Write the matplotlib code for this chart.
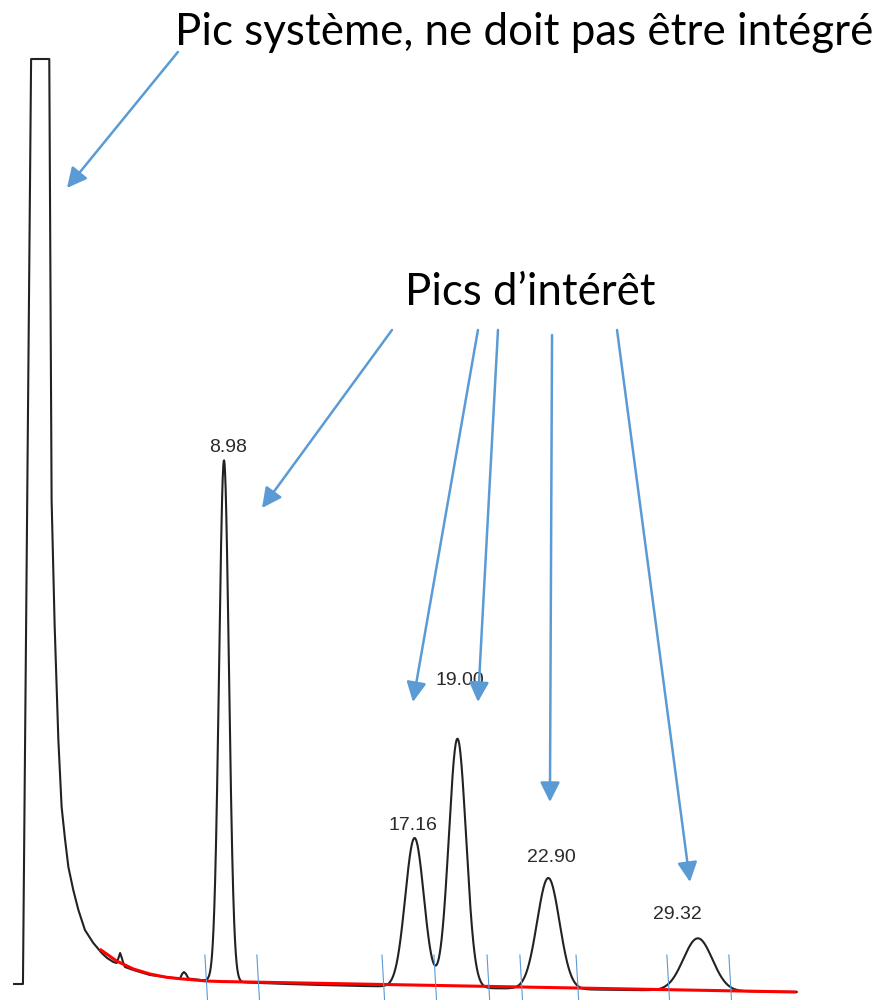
import numpy as np
import matplotlib
matplotlib.use('Agg')
import matplotlib.pyplot as plt

# time axis in minutes, signal in recorder units (0-1000 over the page height)

# system peak (clipped) and its tail
sys_t = [-0.03, 0.35, 0.70, 1.48, 1.53, 1.58, 1.71, 1.87, 1.94, 2.01, 2.16, 2.30,
         2.51, 2.73, 3.01, 3.37, 3.73, 3.96, 4.23, 4.37, 4.45, 4.52, 4.58, 4.67,
         4.73, 5.09, 5.80, 6.80, 7.09, 7.18, 7.26, 7.35, 7.45, 7.94]
sys_s = [16, 16, 941, 941, 720, 500, 375, 260, 227, 193, 160, 133,
         110, 90, 70, 57, 47, 42, 38, 37, 42, 47, 43, 36,
         33, 30, 25, 22, 21.5, 26, 28, 26, 21.5, 20]

# resolved peaks
peak_rt = [8.98, 17.16, 19.00, 22.90, 29.32]
peak_height = [521, 149, 249, 111, 52.5]
peak_sigma = [0.21, 0.40, 0.37, 0.48, 0.62]
label_t = [9.17, 17.07, 19.11, 23.04, 28.46]
label_s = [548, 170, 315, 138, 81]

# drifting baseline under the resolved peaks
base_start, base_end = 7.94, 33.56
base_level = 14.7
base_slope = -0.26
base_hump = 5.3
base_tau = 4.5

# hand-drawn baseline (red)
red_t = [3.70, 4.37, 5.09, 5.80, 6.52, 7.23, 8.23, 8.81, 33.49]
red_s = [50, 39, 31, 26, 22.7, 21, 19, 18.5, 8]

# integration marks
mark_t = [8.16, 10.39, 15.76, 17.99, 20.27, 21.68, 24.09, 27.99, 30.65]

# annotations: (start t, start s) -> (tip t, tip s)
arrow_from = [(7.00, 948), (16.19, 670), (19.88, 670), (20.74, 670), (23.06, 665), (25.85, 670)]
arrow_to = [(2.24, 812), (10.61, 492), (17.09, 298), (19.88, 298), (22.97, 198), (28.98, 118)]

blue = '#5b9bd5'

fig = plt.figure(figsize=(8.81, 10), dpi=100)
ax = fig.add_axes([0, 0, 1, 1])
ax.set_xlim(-0.635, 37.18)
ax.set_ylim(0, 1000)
ax.axis('off')

# chromatogram trace
t = np.linspace(base_start, base_end, 3000)
dt = t - base_start
signal = base_level + base_slope * dt + base_hump * np.exp(-dt / base_tau)
for rt, h, sg in zip(peak_rt, peak_height, peak_sigma):
    signal = signal + h * np.exp(-0.5 * ((t - rt) / sg) ** 2)
trace_t = np.concatenate([sys_t, t[1:]])
trace_s = np.concatenate([sys_s, signal[1:]])
ax.plot(trace_t, trace_s, color='#222222', lw=1.5, solid_joinstyle='round', zorder=2)

# manual baseline
ax.plot(red_t, red_s, color='#ff0000', lw=2.2, zorder=3)

# integration marks
for m in mark_t:
    ax.plot([m, m + 0.12], [45, -3], color=blue, lw=0.8, zorder=4)

# retention time labels
for rt, lt, ls in zip(peak_rt, label_t, label_s):
    ax.text(lt, ls, f'{rt:.2f}', ha='center', va='baseline', fontsize=14,
            family='Liberation Sans', color='#2a2a2a')

# arrows
for (x0, y0), (x1, y1) in zip(arrow_from, arrow_to):
    ax.annotate('', xy=(x1, y1), xytext=(x0, y0),
                arrowprops=dict(arrowstyle='-|>,head_length=0.6,head_width=0.3',
                                color=blue, lw=1.8, mutation_scale=20,
                                shrinkA=0, shrinkB=0))

ax.text(6.88, 955, 'Pic système, ne doit pas être intégré', ha='left', va='baseline',
        fontsize=31.6, family='Lato', color='black')
ax.text(16.75, 695, 'Pics d\u2019intérêt', ha='left', va='baseline',
        fontsize=31.5, family='Lato', color='black')

fig.savefig('out.png', dpi=100)
